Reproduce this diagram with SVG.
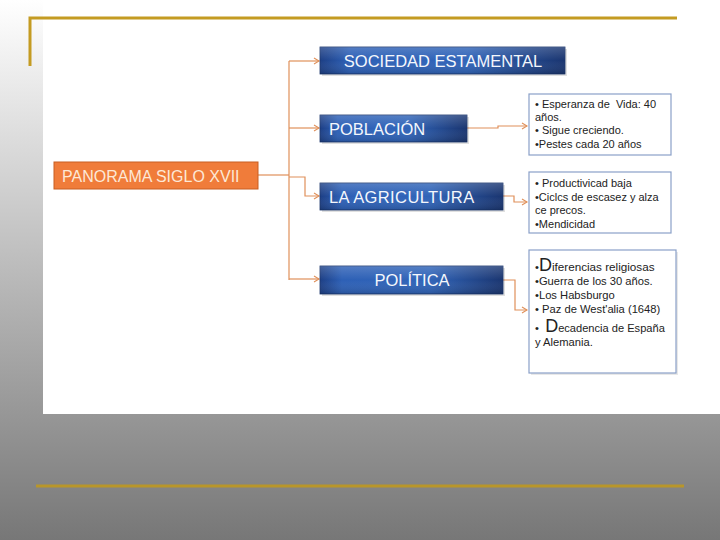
<svg xmlns="http://www.w3.org/2000/svg" width="720" height="540" viewBox="0 0 720 540">
<defs>
<linearGradient id="bg" x1="0" y1="0" x2="0" y2="1">
<stop offset="0" stop-color="#ffffff"/>
<stop offset="1" stop-color="#777777"/>
</linearGradient>
<linearGradient id="blue" x1="0" y1="0" x2="1" y2="0">
<stop offset="0" stop-color="#1d3f85"/>
<stop offset="0.12" stop-color="#2d60b6"/>
<stop offset="0.6" stop-color="#3064b8"/>
<stop offset="1" stop-color="#1a3570"/>
</linearGradient>
<linearGradient id="shine" x1="0" y1="0" x2="0" y2="1">
<stop offset="0" stop-color="#ffffff" stop-opacity="0.18"/>
<stop offset="0.5" stop-color="#ffffff" stop-opacity="0"/>
<stop offset="1" stop-color="#000000" stop-opacity="0.15"/>
</linearGradient>
<marker id="arr" markerWidth="8" markerHeight="8" refX="6" refY="4" orient="auto" markerUnits="userSpaceOnUse">
<path d="M1,1 L6,4 L1,7" fill="none" stroke="#e0905a" stroke-width="1.1"/>
</marker>
<style>
.blue{fill:url(#blue);stroke:#1a356c;stroke-width:0.8}
.shine{fill:url(#shine)}
.shadow{fill:#000;opacity:0.12}
.bt{font-family:"Liberation Sans",Arial,sans-serif;font-size:16.5px;fill:#f4f7fc}
.ot{font-family:"Liberation Sans",Arial,sans-serif;font-size:16px;fill:#fde8d6}
.box{fill:#ffffff;stroke:#8aa0c8;stroke-width:1.2}
.tt{font-family:"Liberation Sans",Arial,sans-serif;font-size:11px;fill:#222}
.st{font-family:"Liberation Sans",Arial,sans-serif;font-size:11.2px;fill:#222}
.big{font-size:18px}
.conn{fill:none;stroke:#e0905a;stroke-width:1.2}
.gold{stroke:#c49b22;stroke-width:3;fill:none}
</style>
</defs>
<rect x="0" y="0" width="720" height="540" fill="url(#bg)"/>
<rect x="43" y="0" width="677" height="414" fill="#ffffff"/>
<path class="gold" d="M30,66 L30,18 L677,18"/>
<line x1="36" y1="486" x2="684" y2="486" stroke="#b8962a" stroke-width="3"/>

<g id="connectors">
<path class="conn" d="M258,175 L289,175"/>
<path class="conn" d="M289,61 L289,280"/>
<path class="conn" d="M289,61 L319,61" marker-end="url(#arr)"/>
<path class="conn" d="M289,128 L319,128" marker-end="url(#arr)"/>
<path class="conn" d="M289,177 L305,177 L305,196 L319,196" marker-end="url(#arr)"/>
<path class="conn" d="M289,279 L319,279" marker-end="url(#arr)"/>
<path class="conn" d="M467,128 L498,128 L498,126 L527,126" marker-end="url(#arr)"/>
<path class="conn" d="M503,196 L514,196 L514,202 L527,202" marker-end="url(#arr)"/>
<path class="conn" d="M503,280 L515,280 L515,310 L527,310" marker-end="url(#arr)"/>
</g>

<g id="panorama">
<rect x="54" y="162" width="204" height="27" fill="#f07c3a" stroke="#c85e22" stroke-width="1"/>
<text class="ot" x="62" y="182">PANORAMA SIGLO XVII</text>
</g>

<g id="sociedad">
<rect class="shadow" x="322" y="49" width="245" height="27"/>
<rect class="blue" x="320" y="47" width="245" height="27"/>
<rect class="shine" x="320" y="47" width="245" height="27"/>
<text class="bt" x="443" y="67" text-anchor="middle">SOCIEDAD ESTAMENTAL</text>
</g>

<g id="poblacion">
<rect class="shadow" x="322" y="117" width="147" height="27"/>
<rect class="blue" x="320" y="115" width="147" height="27"/>
<rect class="shine" x="320" y="115" width="147" height="27"/>
<text class="bt" x="329" y="135">POBLACIÓN</text>
</g>

<g id="agricultura">
<rect class="shadow" x="322" y="185" width="183" height="27"/>
<rect class="blue" x="320" y="183" width="183" height="27"/>
<rect class="shine" x="320" y="183" width="183" height="27"/>
<text class="bt" x="329" y="203" letter-spacing="0.4">LA AGRICULTURA</text>
</g>

<g id="politica">
<rect class="shadow" x="322" y="268" width="183" height="28"/>
<rect class="blue" x="320" y="266" width="183" height="28"/>
<rect class="shine" x="320" y="266" width="183" height="28"/>
<text class="bt" x="412" y="286" text-anchor="middle">POLÍTICA</text>
</g>

<g id="box-poblacion">
<rect class="box" x="529" y="94" width="142" height="61"/>
<text class="tt" x="535" y="108">• Esperanza de &#160;Vida: 40</text>
<text class="tt" x="535" y="121">años.</text>
<text class="tt" x="535" y="134">• Sigue creciendo.</text>
<text class="tt" x="535" y="148">•Pestes cada 20 años</text>
</g>

<g id="box-agricultura">
<rect class="box" x="529" y="172" width="142" height="61"/>
<text class="tt" x="535" y="187">• Productivicad baja</text>
<text class="tt" x="535" y="201">•Ciclcs de escasez y alza</text>
<text class="tt" x="535" y="214">ce precos.</text>
<text class="tt" x="535" y="228">•Mendicidad</text>
</g>

<g id="box-politica">
<rect x="531" y="252" width="147" height="123" fill="#d8d8d8" opacity="0.6"/>
<rect class="box" x="529" y="250" width="147" height="123"/>
<text class="st" x="535" y="271">•<tspan class="big">D</tspan><tspan font-size="11.7">iferencias religiosas</tspan></text>
<text class="st" x="535" y="285">•Guerra de los 30 años.</text>
<text class="st" x="535" y="299">•Los Habsburgo</text>
<text class="st" x="535" y="313">• Paz de West'alia (1648)</text>
<text class="st" x="535" y="332">• &#160;<tspan class="big">D</tspan><tspan font-size="11.1">ecadencia de España</tspan></text>
<text class="st" x="535" y="346">y Alemania.</text>
</g>
</svg>
